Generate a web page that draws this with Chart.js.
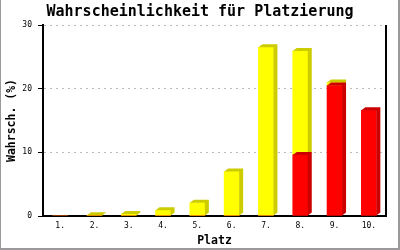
<!DOCTYPE html>
<html lang="de">
<head>
  <meta charset="UTF-8" />
  <title>Wahrscheinlichkeit für Platzierung</title>
  <script src="https://cdn.jsdelivr.net/npm/chart.js"></script>
  <style>
    html, body { margin: 0; padding: 0; background: #fff; }
    #wrap { width: 400px; height: 250px; position: relative; }
  </style>
</head>
<body>
  <div id="wrap"><canvas id="chartPlatz" width="400" height="250"></canvas></div>
  <script>
    // Daten
    const plaetze = ['1.', '2.', '3.', '4.', '5.', '6.', '7.', '8.', '9.', '10.'];
    const wertRot = [0, 0, 0, 0, 0, 0, 0, 9.6, 20.5, 16.6];
    const wertGelb = [0, 0.1, 0.3, 0.9, 2.1, 7.0, 26.5, 16.3, 0.45, 0];
    const yTicks = [0, 10, 20, 30];

    const MONO = "'DejaVu Sans Mono', monospace";

    // 3D-Effekt: Seite und Deckel je Balken
    const balken3d = {
      id: 'balken3d',
      afterDatasetDraw(chart, args) {
        const ctx = chart.ctx;
        const ds = chart.data.datasets[args.index];
        const dx = 4, dy = 3;
        ctx.save();
        ctx.fillStyle = ds.seitenFarbe;
        args.meta.data.forEach((el, i) => {
          if (!ds.data[i]) return;
          const l = el.x - el.width / 2;
          const r = el.x + el.width / 2;
          const t = Math.min(el.y, el.base);
          const b = Math.max(el.y, el.base);
          ctx.beginPath();
          ctx.moveTo(l, t);
          ctx.lineTo(l + dx, t - dy);
          ctx.lineTo(r + dx, t - dy);
          ctx.lineTo(r + dx, b - dy);
          ctx.lineTo(r, b);
          ctx.lineTo(r, t);
          ctx.closePath();
          ctx.fill();
        });
        ctx.restore();
      }
    };

    // Rahmen und rechte Achse
    const rahmen = {
      id: 'rahmen',
      afterDraw(chart) {
        const ctx = chart.ctx;
        const a = chart.chartArea;
        ctx.save();
        ctx.strokeStyle = '#000';
        ctx.lineWidth = 2;
        ctx.beginPath();
        ctx.moveTo(a.right, a.top);
        ctx.lineTo(a.right, a.bottom + 1);
        ctx.stroke();
        ctx.fillStyle = '#999';
        ctx.fillRect(0, 0, 1, 250);
        ctx.fillRect(398, 0, 2, 250);
        ctx.fillRect(0, 248, 400, 2);
        ctx.restore();
      }
    };

    new Chart(document.getElementById('chartPlatz'), {
      type: 'bar',
      data: {
        labels: plaetze,
        datasets: [
          { label: 'rot', data: wertRot, backgroundColor: '#ff0000', seitenFarbe: '#cc0000', barThickness: 15 },
          { label: 'gelb', data: wertGelb, backgroundColor: '#ffff00', seitenFarbe: '#cccc00', barThickness: 15 }
        ]
      },
      options: {
        responsive: false,
        animation: false,
        devicePixelRatio: 1,
        layout: { padding: 0 },
        plugins: {
          legend: { display: false },
          tooltip: { enabled: false },
          title: {
            display: true,
            text: 'Wahrscheinlichkeit für Platzierung',
            color: '#000',
            font: { family: MONO, size: 15, weight: 'bold', lineHeight: 1 },
            padding: { top: 5, bottom: 5 }
          }
        },
        scales: {
          x: {
            stacked: true,
            grid: { display: false, drawTicks: false },
            border: { display: true, color: '#000', width: 2 },
            ticks: { color: '#000', font: { family: MONO, size: 8 }, padding: 5, maxRotation: 0 },
            title: {
              display: true,
              text: 'Platz',
              color: '#000',
              font: { family: MONO, size: 11.5, weight: 'bold' },
              padding: { top: 0, bottom: 2 }
            },
            afterFit(scale) { scale.height = 34; }
          },
          y: {
            stacked: true,
            min: 0,
            max: 30,
            afterBuildTicks(scale) { scale.ticks = yTicks.map(v => ({ value: v })); },
            grid: {
              color: '#bbbbbb',
              lineWidth: 1,
              tickLength: 5,
              tickColor: '#000',
              tickBorderDash: []
            },
            border: { display: true, color: '#000', width: 2, dash: [2, 4] },
            ticks: { color: '#000', font: { family: MONO, size: 8 }, padding: 6 },
            title: {
              display: true,
              text: 'Wahrsch. (%)',
              color: '#000',
              font: { family: MONO, size: 11.5, weight: 'bold' },
              padding: { top: 5, bottom: 0 }
            },
            afterFit(scale) { scale.width = 43; }
          },
          rechts: {
            position: 'right',
            min: 0,
            max: 30,
            grid: { display: false, drawTicks: false },
            border: { display: false },
            ticks: { display: false },
            afterFit(scale) { scale.width = 14; }
          }
        }
      },
      plugins: [balken3d, rahmen]
    });
  </script>
</body>
</html>
